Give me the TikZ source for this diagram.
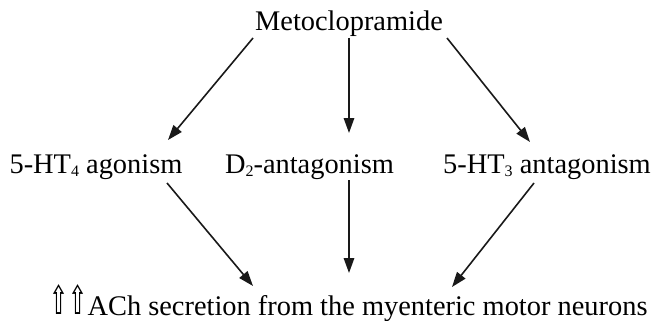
\documentclass[tikz,border=0pt]{standalone}
\usepackage{fontspec}
\setmainfont{Liberation Serif}
\newfontfamily\symfont{DejaVu Sans}
\usetikzlibrary{arrows.meta}
\newcommand{\upwhite}{{\symfont\raisebox{1pt}[20pt][0pt]{\scalebox{0.8}[1.4]{⇧}}}}
\newcommand{\lowidx}[1]{\raisebox{-0.3ex}{\fontsize{16}{16}\selectfont #1}}

\begin{document}
\begin{tikzpicture}[x=1pt, y=-1pt,
  lbl/.style={inner sep=0pt, anchor=base, font=\fontsize{28.4}{34}\selectfont},
  arr/.style={-{Triangle[length=15pt, width=10.5pt]}, line width=1.6pt, black!90}]
\useasboundingbox (0,0) rectangle (656,321);
% labels
\node[lbl] (meto) at (349,31) {Metoclopramide};
\node[lbl] (ht4) at (96,173) {5-HT\lowidx{4} agonism};
\node[lbl] (d2) at (309.5,173) {D\lowidx{2}-antagonism};
\node[lbl] (ht3) at (547,173) {5-HT\lowidx{3} antagonism};
\node[lbl] (ach) at (348.5,315) {\upwhite\upwhite ACh secretion from the myenteric motor neurons};
% arrows
\draw[arr] ([shift={(-96,7)}]meto.base) -- ([shift={(72,-33)}]ht4.base);
\draw[arr] ([shift={(0,7)}]meto.base) -- ([shift={(39.5,-40)}]d2.base);
\draw[arr] ([shift={(98,7)}]meto.base) -- ([shift={(-17,-31)}]ht3.base);
\draw[arr] ([shift={(71,10)}]ht4.base) -- ([shift={(-95.5,-29)}]ach.base);
\draw[arr] ([shift={(39.5,7)}]d2.base) -- ([shift={(0.5,-42)}]ach.base);
\draw[arr] ([shift={(-13,10)}]ht3.base) -- ([shift={(103.5,-28)}]ach.base);
\end{tikzpicture}
\end{document}
